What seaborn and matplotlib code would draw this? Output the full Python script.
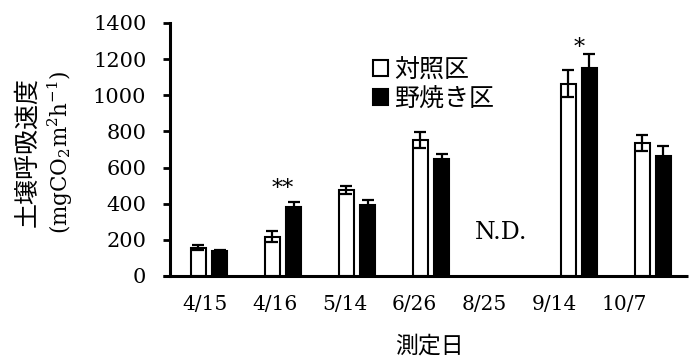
import numpy as np
import pandas as pd
import seaborn as sns
import matplotlib.pyplot as plt
from matplotlib.patches import Patch

# Soil respiration rate by measurement date (mean and SD)
dates = ["4/15", "4/16", "5/14", "6/26", "8/25", "9/14", "10/7"]
treatments = ["対照区", "野焼き区"]
control_mean = [157, 217, 478, 753, np.nan, 1063, 734]
control_sd = [15, 30, 22, 42, np.nan, 75, 44]
burned_mean = [140, 384, 393, 646, np.nan, 1153, 666]
burned_sd = [5, 26, 29, 31, np.nan, 76, 52]

# significance marks
sig_dates = ["4/16", "9/14"]
sig_marks = ["**", "*"]
sig_y = [482, 1262]
nd_date = "8/25"
nd_y = 238

sns.set_style("ticks")
plt.rcParams["font.family"] = ["DejaVu Serif", "Noto Sans CJK JP"]
plt.rcParams["mathtext.fontset"] = "dejavuserif"
for key in ["text.color", "axes.labelcolor", "xtick.color", "ytick.color",
            "axes.edgecolor"]:
    plt.rcParams[key] = "black"
JP = ["Noto Sans CJK JP", "DejaVu Sans"]

df = pd.DataFrame({
    "date": dates * 2,
    "treatment": [treatments[0]] * len(dates) + [treatments[1]] * len(dates),
    "rate": control_mean + burned_mean,
    "sd": control_sd + burned_sd,
})

fig = plt.figure(figsize=(6.97, 3.62), dpi=100)
ax = fig.add_axes([0.2439, 0.2376, 0.7431, 0.6989])

palette = {treatments[0]: "white", treatments[1]: "black"}
sns.barplot(data=df, x="date", y="rate", hue="treatment", order=dates,
            hue_order=treatments, palette=palette, saturation=1,
            edgecolor="black", linewidth=1.5, width=0.57, gap=0.26,
            errorbar=None, legend=False, ax=ax)

# error bars on top of each bar
sd_lookup = {(r.treatment, r.date): r.sd for r in df.itertuples()}
for level, container in zip(treatments, ax.containers):
    for bar in container:
        h = bar.get_height()
        if not np.isfinite(h):
            continue
        cx = bar.get_x() + bar.get_width() / 2
        d = dates[int(round(cx))]
        ax.errorbar(cx, h, yerr=sd_lookup[(level, d)], color="black",
                    elinewidth=1.6, capsize=4.5, capthick=1.6, zorder=5)

for d, m, y in zip(sig_dates, sig_marks, sig_y):
    ax.text(dates.index(d), y, m, ha="center", va="center", fontsize=16)
ax.text(dates.index(nd_date) - 0.05, nd_y, "N.D.", ha="center", va="center",
        fontsize=17)

ax.set_xlim(-0.527, 6.473)
ax.set_ylim(0, 1400)
ax.set_yticks(range(0, 1401, 200))
# date labels sit on a slightly tighter pitch than the bar groups
ax.set_xticks(np.arange(len(dates)) * 0.943 - 0.05, dates)
ax.tick_params(axis="x", length=0, pad=13.5, labelsize=14.5)
ax.tick_params(axis="y", length=5, width=2, pad=12, labelsize=15,
               direction="out")
for s in ["top", "right"]:
    ax.spines[s].set_visible(False)
for s in ["left", "bottom"]:
    ax.spines[s].set_linewidth(2.2)
ax.spines["bottom"].set_bounds(-0.62, 6.473)
ax.spines["bottom"].set_capstyle("butt")

ax.set_xlabel("測定日", family=JP, fontsize=16.5, labelpad=15)
ax.set_ylabel("")
ax.text(-0.275, 0.49, "土壌呼吸速度", transform=ax.transAxes, rotation=90,
        ha="center", va="center", family=JP, fontsize=18)
ax.text(-0.2124, 0.49, r"(mgCO$_2$m$^2$h$^{\mathregular{-1}}$)",
        transform=ax.transAxes, rotation=90, ha="center", va="center",
        fontsize=15.5)

handles = [Patch(facecolor=palette[t], edgecolor="black", linewidth=1.5)
           for t in treatments]
leg = ax.legend(handles, treatments, loc="upper left",
                bbox_to_anchor=(0.392, 0.865), frameon=False, borderpad=0,
                borderaxespad=0, handlelength=0.6, handleheight=0.6,
                handletextpad=0.25, labelspacing=0.12,
                prop={"family": JP, "size": 18})

fig.savefig("out.png", dpi=100)
